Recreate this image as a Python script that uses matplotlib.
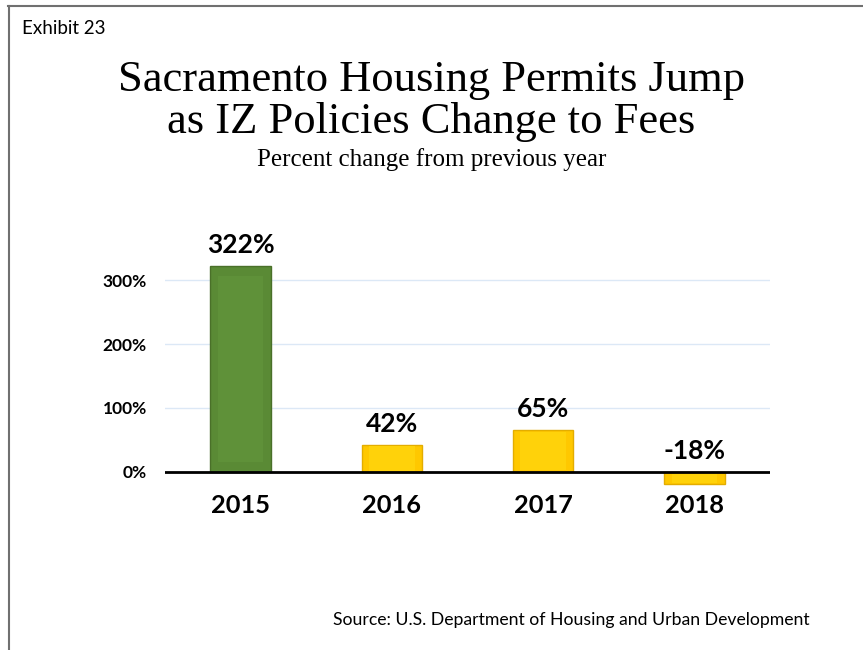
import matplotlib.pyplot as plt
from matplotlib.lines import Line2D

years = ["2015", "2016", "2017", "2018"]
pct_change = [322, 42, 65, -18]
value_labels = ["322%", "42%", "65%", "-18%"]
y_ticks = [0, 100, 200, 300]
y_tick_labels = ["0%", "100%", "200%", "300%"]

W, H = 863, 650
fig = plt.figure(figsize=(W / 100, H / 100), dpi=100)

# frame lines (top and left only)
fig.add_artist(Line2D([8 / W, 1], [1 - 6 / H, 1 - 6 / H], color="#707070", lw=1.5))
fig.add_artist(Line2D([9 / W, 9 / W], [0, 1 - 6 / H], color="#707070", lw=1.5))

serif = ["Liberation Serif", "DejaVu Serif"]
sans = ["Lato", "DejaVu Sans"]

fig.text(22 / W, 1 - 28 / H, "Exhibit 23", family=sans, fontsize=13.5, va="center")
fig.text(0.5, 1 - 80 / H, "Sacramento Housing Permits Jump", family=serif,
         fontsize=32, ha="center", va="center")
fig.text(0.5, 1 - 122 / H, "as IZ Policies Change to Fees", family=serif,
         fontsize=32, ha="center", va="center")
fig.text(0.5, 1 - 160 / H, "Percent change from previous year", family=serif,
         fontsize=18, ha="center", va="center")
fig.text(810 / W, 1 - 620 / H, "Source: U.S. Department of Housing and Urban Development",
         family=sans, fontsize=12.7, ha="right", va="center")

ax = fig.add_axes([165 / W, (H - 491.2) / H, 605 / W, 243.2 / H])
ax.set_xlim(-0.5, 3.5)
ax.set_ylim(-30, 350)

for y in y_ticks[1:]:
    ax.axhline(y, color="#dce8f6", lw=1, zorder=0)

colors = ["#5a8a35", "#ffc800", "#ffc800", "#ffc800"]
edges = ["#4a7029", "#e3ad00", "#e3ad00", "#e3ad00"]
x = list(range(len(years)))
ax.bar(x, pct_change, width=0.4, color=colors, edgecolor=edges, lw=1, zorder=2)
# light inner face to hint the bevel
ax.bar(x, [v * 0.9 for v in pct_change], width=0.3,
       bottom=[v * 0.05 for v in pct_change],
       color=["#5f9139", "#ffd20a", "#ffd20a", "#ffd20a"], lw=0, zorder=3)

ax.axhline(0, color="black", lw=2, zorder=4)

for i, (v, lab) in enumerate(zip(pct_change, value_labels)):
    ax.text(i, max(v, 0) + 14, lab, ha="center", va="bottom",
            family=sans, fontweight="bold", fontsize=19)

ax.set_yticks(y_ticks)
ax.set_yticklabels(y_tick_labels, family=sans, fontweight="bold", fontsize=12.5)
ax.set_xticks(x)
ax.set_xticklabels(years, family=sans, fontweight="bold", fontsize=18.3)
ax.tick_params(length=0)
ax.tick_params(axis="y", pad=13)
ax.tick_params(axis="x", pad=2)
for s in ax.spines.values():
    s.set_visible(False)

fig.savefig("out.png", dpi=100)
